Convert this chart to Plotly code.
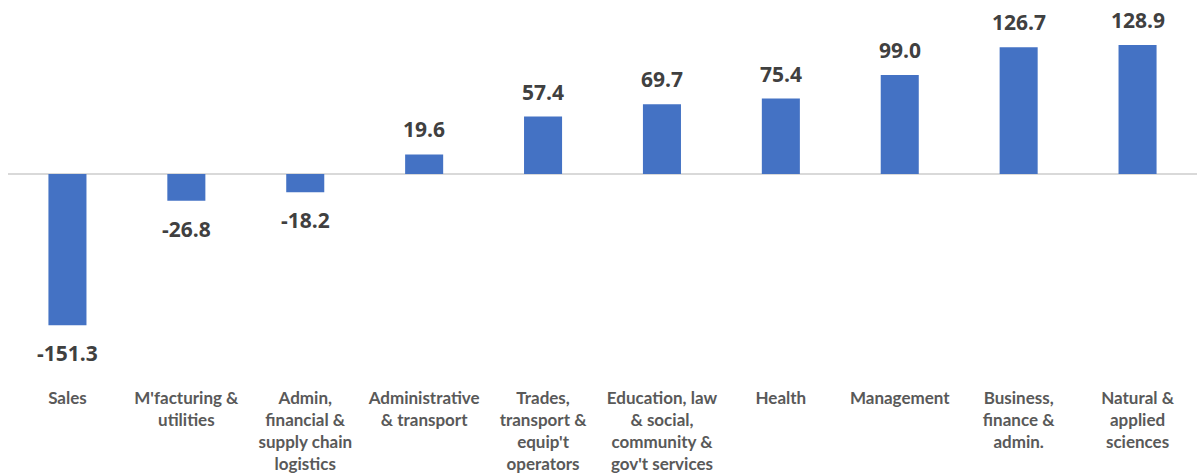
import plotly.graph_objects as go

# Net employment change by occupation group
categories = [
    "Sales",
    "M'facturing &<br>utilities",
    "Admin,<br>financial &<br>supply chain<br>logistics",
    "Administrative<br>& transport",
    "Trades,<br>transport &<br>equip't<br>operators",
    "Education, law<br>& social,<br>community &<br>gov't services",
    "Health",
    "Management",
    "Business,<br>finance &<br>admin.",
    "Natural &<br>applied<br>sciences",
]
values = [-151.3, -26.8, -18.2, 19.6, 57.4, 69.7, 75.4, 99.0, 126.7, 128.9]

BAR_COLOR = "#4472C4"
VALUE_COLOR = "#404040"
LABEL_COLOR = "#595959"

fig = go.Figure(
    go.Bar(
        x=categories,
        y=values,
        marker=dict(color=BAR_COLOR, line=dict(width=0)),
        hoverinfo="skip",
    )
)

# Value labels above positive bars and below negative ones
for cat, val in zip(categories, values):
    fig.add_annotation(
        x=cat,
        y=val,
        text=f"{val:.1f}",
        showarrow=False,
        yanchor="middle",
        yshift=25 if val >= 0 else -28,
        font=dict(family="Open Sans", size=21, color=VALUE_COLOR, weight="bold"),
    )

fig.update_layout(
    width=1197,
    height=476,
    margin=dict(l=8, r=0, t=0, b=96),
    plot_bgcolor="white",
    paper_bgcolor="white",
    bargap=0.68,
    showlegend=False,
    xaxis=dict(
        showgrid=False,
        showline=False,
        ticks="",
        tickangle=0,
        ticklabelstandoff=6,
        tickfont=dict(family="Lato", size=17, color=LABEL_COLOR, weight="bold"),
    ),
    yaxis=dict(
        range=[-206, 174],
        showgrid=False,
        showticklabels=False,
        zeroline=True,
        zerolinecolor="#D9D9D9",
        zerolinewidth=1.5,
    ),
)

fig.write_html("out.html")
